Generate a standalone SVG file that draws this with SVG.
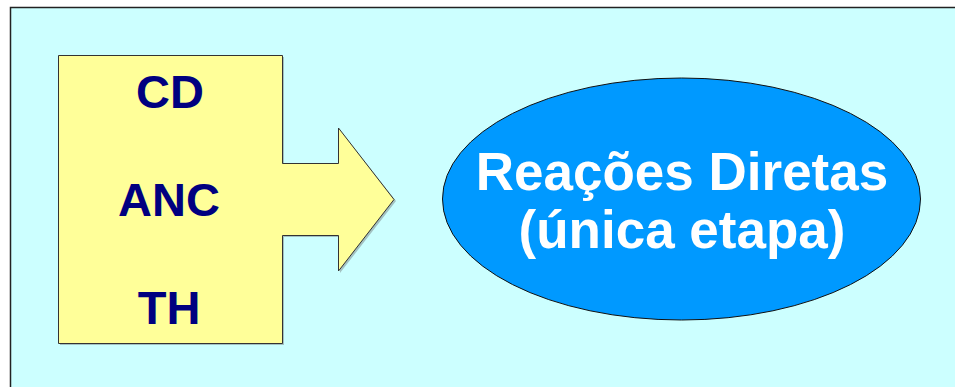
<svg xmlns="http://www.w3.org/2000/svg" width="955" height="387" viewBox="0 0 955 387">
<style>
.lbl{font-family:"Liberation Sans",Arial,sans-serif;font-weight:bold;text-anchor:middle}
.nv{fill:#000080;font-size:47px}
.wt{fill:#ffffff;font-size:53px}
</style>
<rect width="955" height="387" fill="#ffffff"/>
<rect id="panel" x="10.5" y="7.5" width="960" height="400" fill="#CCFFFF" stroke="#222222" stroke-width="1.5"/>
<g id="source">
<path d="M60,57 H284 V165 H340 V130 L396,201 L340,273 V237 H284 V345 H60 Z" fill="#666666" opacity="0.4"/>
<path d="M58.5,55.5 H282.5 V163.5 H338.5 V128 L394,199.5 L338.5,271 V235.5 H282.5 V343.5 H58.5 Z" fill="#FFFF99" stroke="#333333" stroke-width="1"/>
<text class="lbl nv" x="170" y="108">CD</text>
<text class="lbl nv" x="169" y="216">ANC</text>
<text class="lbl nv" x="169" y="324">TH</text>
</g>
<g id="target">
<ellipse cx="681.5" cy="199" rx="239" ry="121" fill="#0099FF" stroke="#111111" stroke-width="1"/>
<text class="lbl wt" x="682" y="190">Reações Diretas</text>
<text class="lbl wt" x="682" y="248">(única etapa)</text>
</g>
<g id="connectors"/>
</svg>
